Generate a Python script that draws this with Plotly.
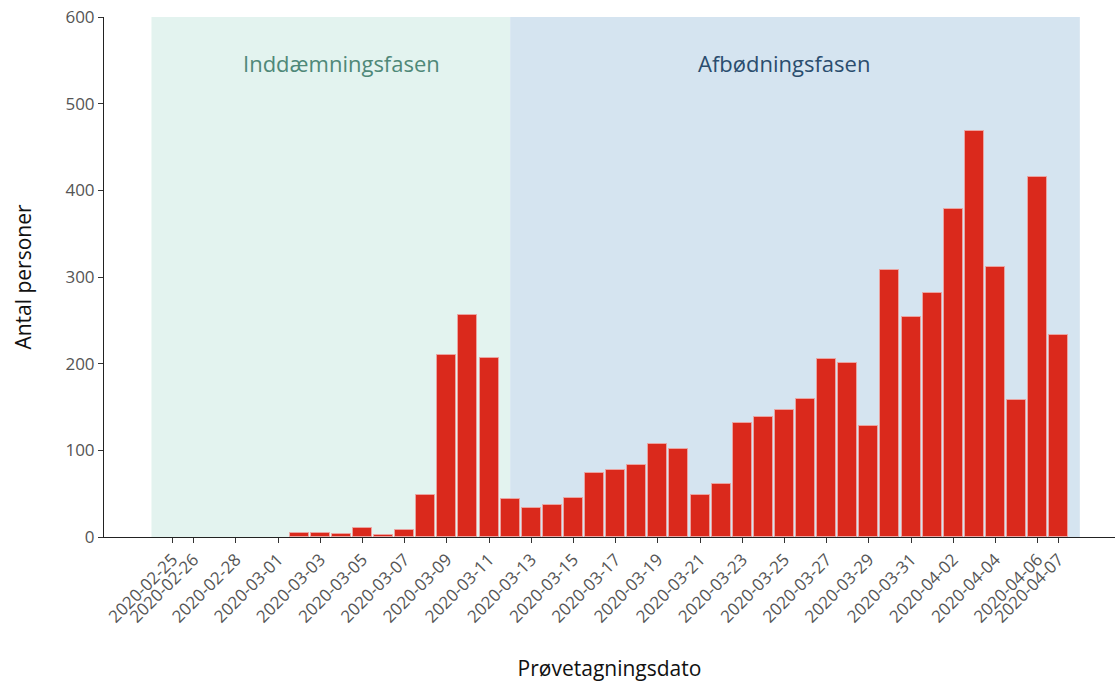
import plotly.graph_objects as go
import pandas as pd

# ---- data ----
dates = pd.date_range("2020-03-02", "2020-04-07", freq="D").strftime("%Y-%m-%d").tolist()
counts = [5, 5, 3, 10, 2, 8, 48, 210, 256, 207,
          44, 33, 37, 45, 74, 77, 83, 107, 102, 48,
          61, 131, 139, 147, 159, 205, 201, 128, 308, 254,
          281, 378, 468, 312, 158, 415, 233]

tick_dates = ["2020-02-25", "2020-02-26", "2020-02-28", "2020-03-01", "2020-03-03",
              "2020-03-05", "2020-03-07", "2020-03-09", "2020-03-11", "2020-03-13",
              "2020-03-15", "2020-03-17", "2020-03-19", "2020-03-21", "2020-03-23",
              "2020-03-25", "2020-03-27", "2020-03-29", "2020-03-31", "2020-04-02",
              "2020-04-04", "2020-04-06", "2020-04-07"]

phase_names = ["Inddæmningsfasen", "Afbødningsfasen"]
phase_start = ["2020-02-24", "2020-03-12"]
phase_end = ["2020-03-12", "2020-04-08"]
phase_label_at = ["2020-03-04", "2020-03-25"]
phase_fill = ["#e3f3ef", "#d5e4f0"]
phase_text = ["#4f8878", "#2a4d6e"]

font_family = "Open Sans, Noto Sans, sans-serif"
DAY_MS = 86400000

fig = go.Figure()
fig.add_trace(go.Bar(
    x=dates, y=counts,
    width=0.9 * DAY_MS,
    marker=dict(color="#da291c", line=dict(color="#eba3a0", width=1)),
    hoverinfo="x+y",
))

for name, s, e, lx, fc, tc in zip(phase_names, phase_start, phase_end, phase_label_at, phase_fill, phase_text):
    fig.add_shape(type="rect", xref="x", yref="y", x0=s, x1=e, y0=0, y1=600,
                  fillcolor=fc, line=dict(width=0), layer="below")
    fig.add_annotation(x=lx, y=547, xref="x", yref="y", text=name, showarrow=False,
                       font=dict(family=font_family, size=22, color=tc))

fig.update_layout(
    width=1118, height=684,
    margin=dict(l=104, r=3, t=17, b=147),
    paper_bgcolor="white", plot_bgcolor="white",
    showlegend=False,
    bargap=0,
    font=dict(family=font_family),
)
fig.update_xaxes(
    type="date",
    automargin=False,
    range=["2020-02-21 18:00", "2020-04-09 16:00"],
    tickvals=tick_dates, ticktext=tick_dates,
    tickangle=-45,
    tickfont=dict(size=17, color="#555555", family=font_family),
    ticks="outside", ticklen=5, tickcolor="#333333",
    showline=True, linecolor="#222222", linewidth=1,
    showgrid=False, zeroline=False,
    title=dict(text="Prøvetagningsdato", font=dict(size=21, color="#111111", family=font_family), standoff=35),
)
fig.update_yaxes(
    automargin=False,
    range=[0, 600],
    tickvals=[0, 100, 200, 300, 400, 500, 600],
    tickfont=dict(size=17, color="#555555", family=font_family),
    ticks="outside", ticklen=5, tickcolor="#333333",
    showline=True, linecolor="#222222", linewidth=1,
    showgrid=False, zeroline=False,
    title=dict(text="Antal personer", font=dict(size=21, color="#111111", family=font_family), standoff=28),
)

fig.write_html("out.html", config={"displayModeBar": False},
               post_script="document.body.style.margin='0';document.body.style.overflow='hidden';")
